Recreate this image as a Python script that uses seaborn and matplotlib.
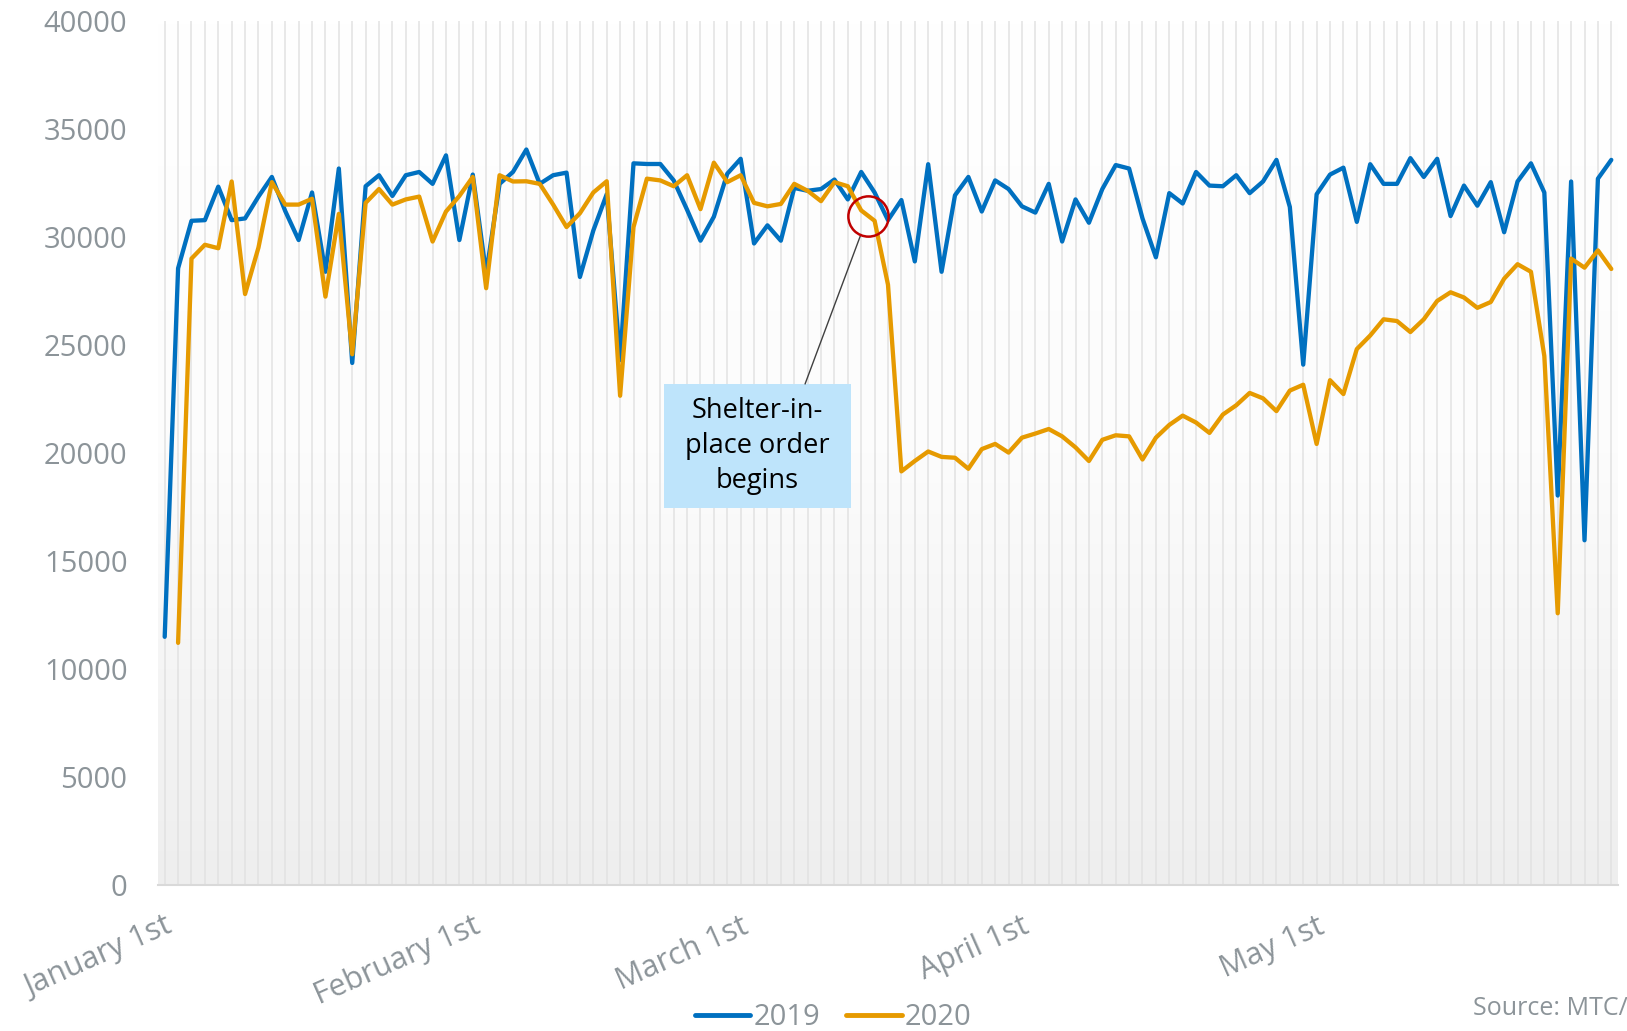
import numpy as np
import pandas as pd
import matplotlib.pyplot as plt
import seaborn as sns
from matplotlib.colors import LinearSegmentedColormap
from matplotlib.patches import Rectangle
from matplotlib.lines import Line2D

# weekday counts, aligned on 2019 weekdays starting January 1st
v2019 = [11490, 28550, 30750, 30780, 32330, 30780, 30860, 31870, 32780, 31200,
         29860, 32060, 28390, 33170, 24170, 32350, 32860, 31900, 32860, 33010,
         32460, 33780, 29860, 32890, 28300, 32460, 33010, 34050, 32460, 32860,
         32980, 28150, 30300, 31980, 24300, 33410, 33380, 33380, 32620, 31260,
         29830, 30940, 32930, 33620, 29700, 30540, 29830, 32270, 32140, 32220,
         32660, 31740, 33010, 32060, 30780, 31710, 28870, 33370, 28390, 31930,
         32780, 31180, 32620, 32220, 31420, 31130, 32460, 29790, 31740, 30660,
         32220, 33330, 33170, 30860, 29060, 32030, 31550, 33010, 32380, 32350,
         32860, 32030, 32570, 33570, 31390, 24090, 31980, 32890, 33210, 30700,
         33370, 32460, 32460, 33650, 32780, 33620, 30970, 32380, 31450, 32540,
         30220, 32570, 33410, 32060, 18030, 32570, 15960, 32700, 33570]

v2020 = [np.nan, 11210, 29000, 29640, 29480, 32570, 27360, 29510, 32540, 31500,
         31500, 31770, 27240, 31070, 24570, 31580, 32220, 31500, 31740, 31870,
         29790, 31180, 31900, 32780, 27630, 32860, 32570, 32580, 32460, 31500,
         30460, 31100, 32060, 32580, 22650, 30460, 32700, 32620, 32350, 32860,
         31290, 33440, 32540, 32860, 31580, 31420, 31530, 32460, 32140, 31660,
         32540, 32350, 31230, 30750, 27790, 19150, 19630, 20070, 19820, 19780,
         19270, 20180, 20420, 20020, 20710, 20900, 21110, 20770, 20260, 19630,
         20610, 20820, 20770, 19700, 20710, 21300, 21730, 21410, 20930, 21780,
         22210, 22780, 22530, 21940, 22890, 23160, 20420, 23370, 22730, 24810,
         25440, 26190, 26110, 25600, 26190, 27040, 27440, 27200, 26720, 26990,
         28070, 28740, 28390, 24490, 12580, 29000, 28580, 29380, 28520]

month_pos = [0, 23, 43, 64, 86]
month_labels = ['January 1st', 'February 1st', 'March 1st', 'April 1st', 'May 1st']
years = ['2019', '2020']
colors = {'2019': '#0070c0', '2020': '#e69a00'}
shelter_idx = 52.5  # shelter-in-place marker sits between these two days

n = len(v2019)
df = pd.DataFrame({
    'day': list(range(n)) * 2,
    'riders': v2019 + v2020,
    'year': ['2019'] * n + ['2020'] * n,
})

sns.set_style('white')
plt.rcParams['font.family'] = ['Open Sans', 'DejaVu Sans']
gray = '#8c9499'

fig = plt.figure(figsize=(16.27, 10.31), dpi=100)
ax = fig.add_axes([158 / 1627, 146 / 1031, 1460 / 1627, 864 / 1031])

# plot area gradient
grad = LinearSegmentedColormap.from_list('bg', ['#ffffff', '#fcfcfc', '#eeeeee'])
ax.imshow(np.linspace(0, 1, 256).reshape(-1, 1), extent=[-0.5, n - 0.5, 0, 40000],
          aspect='auto', cmap=grad, origin='upper', zorder=0)
ax.vlines(range(n), 0, 40000, color='#e0e0e0', lw=1.2, alpha=0.85, zorder=1)

sns.lineplot(data=df, x='day', y='riders', hue='year', palette=colors,
             hue_order=years, estimator=None, lw=3.1, legend=False, ax=ax, zorder=3)

ax.set_xlim(-0.5, n - 0.5)
ax.set_ylim(0, 40000)
ax.set_yticks(range(0, 40001, 5000))
ax.set_xticks(month_pos)
ax.set_xticklabels(month_labels, rotation=24, ha='right', va='top', rotation_mode='anchor')
ax.tick_params(axis='both', length=0, labelsize=21, labelcolor=gray)
ax.tick_params(axis='x', labelsize=22, pad=19)
ax.tick_params(axis='y', pad=22)
ax.set_xlabel('')
ax.set_ylabel('')
for s in ['top', 'right', 'left']:
    ax.spines[s].set_visible(False)
ax.spines['bottom'].set_color('#d9d9d9')
ax.spines['bottom'].set_linewidth(1.5)

# shelter-in-place annotation
yc = (v2020[52] + v2020[53]) / 2
ax.plot(shelter_idx, yc, marker='o', ms=29, mfc='none', mec='#c00000', mew=1.8, zorder=5)
ax.add_patch(Rectangle((0.3466, 0.4363), 0.1281, 0.1436, transform=ax.transAxes,
                       facecolor='#bee4fb', edgecolor='none', zorder=4))
ax.text(0.4106, 0.5081, 'Shelter-in-\nplace order\nbegins', transform=ax.transAxes,
        ha='center', va='center', fontsize=19.5, color='black', linespacing=1.32, zorder=5)
ax.annotate('', xy=(shelter_idx, yc), xytext=(0.4432, 0.5799), textcoords='axes fraction',
            arrowprops=dict(arrowstyle='-', color='#404040', lw=1, shrinkA=0, shrinkB=14.5),
            zorder=4)

handles = [Line2D([], [], color=colors[y], lw=3.5) for y in years]
fig.legend(handles, years, loc='center', bbox_to_anchor=(0.512, 0.013), ncol=2,
           frameon=False, fontsize=21, labelcolor=gray, handlelength=1.9,
           handletextpad=0.1, columnspacing=0.9, borderpad=0)

fig.text(1473 / 1627, 0.022, 'Source: MTC/', ha='left', va='center', fontsize=18, color=gray)

fig.savefig('out.png', dpi=100)
